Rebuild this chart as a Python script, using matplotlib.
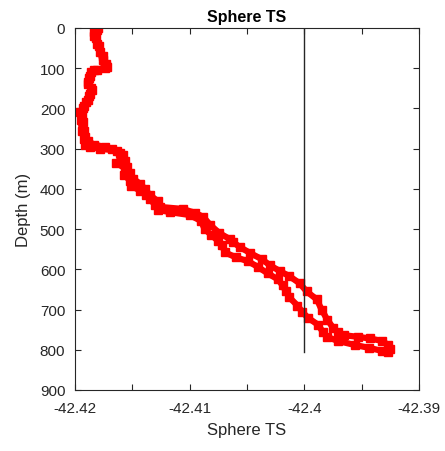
import matplotlib
matplotlib.use('Agg')
import matplotlib.pyplot as plt
from matplotlib.ticker import MultipleLocator

plt.rcParams['font.family'] = ['Liberation Sans', 'DejaVu Sans']

# profile going down (depth in m, sphere TS in dB)
depth_down = [0, 10, 25, 45, 70, 90, 98, 104, 110, 125, 140, 155, 170, 185, 200, 215,
              235, 255, 270, 282, 290, 296, 302, 310, 322, 335, 350, 365, 380, 392,
              405, 415, 425, 440, 452, 458, 465, 480, 500, 515, 530, 540, 558, 570,
              580, 595, 610, 625, 640, 655, 670, 690, 705, 720, 738, 755, 768, 778,
              788, 795, 803, 806]
ts_down = [-42.4181, -42.4183, -42.4182, -42.4179, -42.4176, -42.4173, -42.4172,
           -42.4181, -42.4186, -42.4188, -42.4189, -42.4185, -42.4188, -42.4190,
           -42.4193, -42.4194, -42.4193, -42.4192, -42.4191, -42.4189, -42.4183,
           -42.4174, -42.4168, -42.4161, -42.4159, -42.4164, -42.4156, -42.4157,
           -42.4152, -42.4151, -42.4143, -42.4138, -42.4135, -42.4130, -42.4128,
           -42.4117, -42.4100, -42.4090, -42.4087, -42.4081, -42.4075, -42.4072,
           -42.4069, -42.4060, -42.4049, -42.4040, -42.4032, -42.4023, -42.4019,
           -42.4016, -42.4013, -42.4006, -42.4002, -42.3997, -42.3988, -42.3984,
           -42.3980, -42.3971, -42.3956, -42.3944, -42.3932, -42.3927]

# profile coming back up
depth_up = [798, 788, 778, 772, 768, 764, 756, 745, 725, 700, 675, 655, 635, 617, 605,
            590, 575, 560, 545, 533, 525, 510, 490, 470, 460, 450, 445, 430, 415, 400,
            388, 375, 360, 345, 330, 315, 305, 300, 297, 290, 275, 255, 230, 210, 195,
            180, 165, 150, 135, 120, 105, 100, 95, 80, 60, 40, 20, 5, 0]
ts_up = [-42.3925, -42.3927, -42.3932, -42.3943, -42.3953, -42.3965, -42.3971,
         -42.3975, -42.3980, -42.3985, -42.3989, -42.3998, -42.4004, -42.4013,
         -42.4021, -42.4030, -42.4037, -42.4047, -42.4056, -42.4062, -42.4065,
         -42.4074, -42.4082, -42.4088, -42.4095, -42.4106, -42.4126, -42.4128,
         -42.4135, -42.4139, -42.4143, -42.4149, -42.4152, -42.4155, -42.4156,
         -42.4158, -42.4163, -42.4178, -42.4187, -42.4191, -42.4192, -42.4194,
         -42.4195, -42.4196, -42.4192, -42.4189, -42.4187, -42.4186, -42.4189,
         -42.4187, -42.4183, -42.4174, -42.4173, -42.4176, -42.4178, -42.4181,
         -42.4183, -42.4181, -42.4180]

ref_ts = -42.40
ref_depth = 805

xtick_vals = [-42.42, -42.41, -42.40, -42.39]
xtick_labels = ['-42.42', '-42.41', '-42.4', '-42.39']
ytick_vals = list(range(0, 1000, 100))

fig = plt.figure(figsize=(4.45, 4.52), dpi=100)
ax = fig.add_axes([0.1685, 0.135, 0.773, 0.801])

ax.plot(ts_down + ts_up, depth_down + depth_up, color='#ff0000', marker='s',
        markersize=5.5, linewidth=4.5, solid_joinstyle='round')
ax.plot([ref_ts, ref_ts], [0, ref_depth], color='#262626', linewidth=1.0)

ax.set_xlim(-42.42, -42.39)
ax.set_ylim(900, 0)
ax.set_xticks(xtick_vals)
ax.set_xticklabels(xtick_labels)
ax.xaxis.set_minor_locator(MultipleLocator(0.005))
ax.set_yticks(ytick_vals)

ax.tick_params(which='both', direction='in', top=True, right=True, length=4,
               width=0.8, colors='#262626', labelsize=11)
ax.tick_params(axis='x', which='both', pad=8)
ax.tick_params(axis='y', which='both', pad=7)
for s in ax.spines.values():
    s.set_color('#262626')
    s.set_linewidth(0.8)

ax.set_title('Sphere TS', fontsize=11.5, fontweight='bold', color='#000000', pad=5)
ax.set_xlabel('Sphere TS', fontsize=12, color='#262626', labelpad=5)
ax.set_ylabel('Depth (m)', fontsize=12, color='#262626', labelpad=6)

fig.savefig('out.png', dpi=100)
